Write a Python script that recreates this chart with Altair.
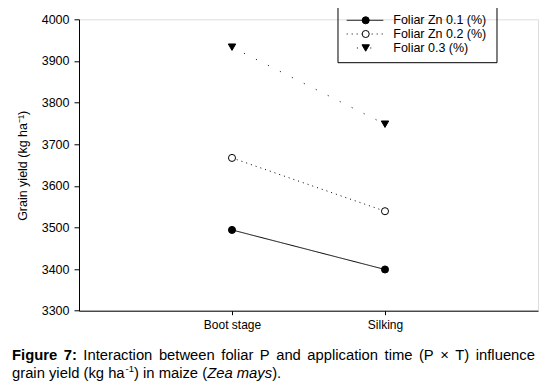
import altair as alt
import pandas as pd

# ---- data ----
stages = ["Boot stage", "Silking"]
series = ["Foliar Zn 0.1 (%)", "Foliar Zn 0.2 (%)", "Foliar 0.3 (%)"]
boot_values = [3494, 3667, 3933]
silking_values = [3399, 3539, 3748]

FONT = "Liberation Sans"

rows = []
for i, s in enumerate(series):
    for j, st in enumerate(stages):
        rows.append({"series": s, "stage": st, "pos": j + 1,
                     "value": [boot_values, silking_values][j][i]})
df = pd.DataFrame(rows)

label_expr = " : ".join(
    [f"datum.value == {j + 1} ? '{st}'" for j, st in enumerate(stages[:-1])]
    + [f"'{stages[-1]}'"])

x_enc = alt.X("pos:Q", scale=alt.Scale(domain=[0, 3], nice=False, zero=False),
              axis=alt.Axis(values=[1, 2], labelExpr=label_expr, title=None, grid=False,
                            tickSize=4, tickColor="black", domainColor="black",
                            labelColor="black", labelFont=FONT, labelFontSize=12,
                            labelPadding=5))
y_enc = alt.Y("value:Q", scale=alt.Scale(domain=[3300, 4000], nice=False, zero=False),
              axis=alt.Axis(values=list(range(3300, 4001, 100)), grid=False, format="d",
                            title="Grain yield (kg ha\u207b\u00b9)",
                            titleFont=FONT, titleFontSize=12.5, titleFontWeight="normal",
                            titleColor="black", titleX=-57, titleY=146, titleAngle=270,
                            titleAlign="center", titleBaseline="middle",
                            tickSize=5, tickColor="black", domainColor="black",
                            labelColor="black", labelFont=FONT, labelFontSize=12.5,
                            labelPadding=5))

styles = [
    dict(dash=[1, 0], shape="circle", fill="black", size=50),
    dict(dash=[1, 4], shape="circle", fill="white", size=50),
    dict(dash=[1, 12.4], shape="triangle-down", fill="black", size=55),
]

layers = []
for s, st in zip(series, styles):
    base = alt.Chart(df).transform_filter(alt.datum.series == s)
    layers.append(base.mark_line(color="black", strokeWidth=1, strokeDash=st["dash"])
                  .encode(x=x_enc, y=y_enc))
for s, st in zip(series, styles):
    base = alt.Chart(df).transform_filter(alt.datum.series == s)
    layers.append(base.mark_point(shape=st["shape"], size=st["size"], fill=st["fill"],
                                  stroke="black", strokeWidth=1, opacity=1, fillOpacity=1)
                  .encode(x=x_enc, y=y_enc))

# ---- legend (drawn from the series list) ----
one = pd.DataFrame({"k": [0]})
VX, VY = 79, 19.3  # page position of plot origin
layers.append(alt.Chart(one).mark_rect(fillOpacity=0, stroke="black", strokeWidth=1)
              .encode(x=alt.value(338 - VX), x2=alt.value(497 - VX),
                      y=alt.value(5.7 - VY), y2=alt.value(62.7 - VY)))
row_y = [20.3, 34, 48]
dash_offsets = [0, 0, 3.2]
for s, st, ry, off in zip(series, styles, row_y, dash_offsets):
    y = ry - VY
    layers.append(alt.Chart(one).mark_rule(color="black", strokeWidth=1,
                                           strokeDash=st["dash"], strokeDashOffset=off)
                  .encode(x=alt.value(346.7 - VX), x2=alt.value(383.3 - VX), y=alt.value(y)))
    layers.append(alt.Chart(one).mark_point(shape=st["shape"], size=st["size"], fill=st["fill"],
                                            stroke="black", strokeWidth=1, opacity=1,
                                            fillOpacity=1)
                  .encode(x=alt.value(365.7 - VX), y=alt.value(y)))
    layers.append(alt.Chart(pd.DataFrame({"label": [s]}))
                  .mark_text(font=FONT, fontSize=12.5, color="black", align="left",
                             baseline="middle")
                  .encode(x=alt.value(393.3 - VX), y=alt.value(y), text="label:N"))

# ---- caption ----
CAP = 14.8
def txt(t, x, y, size=CAP, weight="normal", style="normal"):
    return (alt.Chart(pd.DataFrame({"t": [t]}))
            .mark_text(font=FONT, fontSize=size, fontWeight=weight, fontStyle=style,
                       color="black", align="left", baseline="alphabetic")
            .encode(x=alt.value(x - VX), y=alt.value(y - VY), text="t:N"))

line1 = [("Figure", 3.056, "bold"), ("7:", 0.889, "bold"), ("Interaction", 4.669, "normal"),
         ("between", 3.78, "normal"), ("foliar", 2.167, "normal"), ("P", 0.667, "normal"),
         ("and", 1.668, "normal"), ("application", 4.78, "normal"), ("time", 1.889, "normal"),
         ("(P", 1.0, "normal"), ("\u00d7", 0.584, "normal"), ("T)", 0.944, "normal"),
         ("influence", 4.002, "normal")]
total_w = sum(w for _, w, _ in line1) * CAP
gap = (535 - 12 - total_w) / (len(line1) - 1)
xpos = 12
for word, w, weight in line1:
    layers.append(txt(word, xpos, 360, weight=weight))
    xpos += w * CAP + gap

xpos = 12
layers.append(txt("grain yield (kg ha", xpos, 378.3)); xpos += 7.674 * CAP
layers.append(txt("-1", xpos, 372.5, size=9.5)); xpos += 0.889 * 9.5
layers.append(txt(") in maize (", xpos, 378.3)); xpos += 4.945 * CAP
layers.append(txt("Zea mays", xpos, 378.3, style="italic")); xpos += 4.39 * CAP
layers.append(txt(").", xpos, 378.3))

chart = (alt.layer(*layers)
         .properties(width=459, height=291.4,
                     autosize=alt.AutoSizeParams(type="none"),
                     padding={"left": 71, "top": 11.3, "right": 2, "bottom": 70})
         .configure_view(stroke=None)
         .configure(background="white"))

chart.save("out.html", embed_options={"renderer": "svg", "actions": False})
